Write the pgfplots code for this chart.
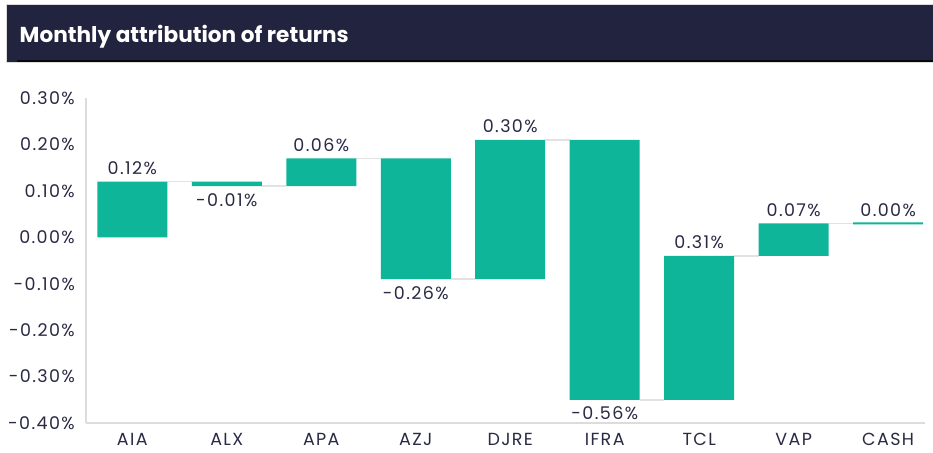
\documentclass[border=0pt]{standalone}
\usepackage{pgfplots}
\pgfplotsset{compat=1.18}
\usepackage{fontspec}
\setmainfont{Poppins}
\newfontfamily\lblfont{Poppins}[LetterSpace=8]
\definecolor{navy}{HTML}{22233F}
\definecolor{barc}{HTML}{0EB598}
\definecolor{txt}{HTML}{2A2A45}
\definecolor{gridc}{HTML}{DCDCDC}
\definecolor{conc}{HTML}{E2E2E2}
\tikzset{lab/.style={anchor=base, text=txt, inner sep=0pt, font=\lblfont\fontsize{17.5}{20}\selectfont}}
\pgfplotsset{
  mygeom/.style={
    at={(86pt,29pt)}, anchor=south west, scale only axis,
    width=839pt, height=325pt,
    xmin=-0.49, xmax=8.39, ymin=-0.40, ymax=0.30,
  }
}
\begin{document}
\begin{tikzpicture}[x=1pt,y=1pt]
\path[use as bounding box] (0,0) rectangle (933,452);
\fill[white] (0,0) rectangle (933,452);
\fill[gridc] (5.5,389) rectangle (933,447.5);
\fill[navy] (6.5,390) rectangle (933,446.5);
\fill[black!80!navy] (17,390) rectangle (933,392);
\node[anchor=base west, text=white, inner sep=0pt, font=\fontsize{21.6}{25}\selectfont\bfseries] at (19.5,409) {Monthly attribution of returns};
\begin{axis}[mygeom,
  axis x line*=bottom, axis y line*=left,
  axis line style={gridc, line width=1.2pt},
  xtick={0,1,2,3,4,5,6,7,8},
  xticklabels={AIA,ALX,APA,AZJ,DJRE,IFRA,TCL,VAP,CASH},
  ytick={-0.4,-0.3,-0.2,-0.1,0,0.1,0.2,0.3},
  yticklabels={-0.40\%,-0.30\%,-0.20\%,-0.10\%,0.00\%,0.10\%,0.20\%,0.30\%},
  major tick length=0pt,
  tick label style={text=txt, font=\lblfont\fontsize{17.5}{20}\selectfont},
  yticklabel style={inner sep=0pt, anchor=east, xshift=-11pt},
  xticklabel style={inner sep=0pt, anchor=north, yshift=-10pt},
  unbounded coords=jump,
]
\addplot[conc, line width=1.5pt] table {
x y
0.37 0.12
0.63 0.12
nan nan
1.37 0.11
1.63 0.11
nan nan
2.37 0.17
2.63 0.17
nan nan
3.37 -0.09
3.63 -0.09
nan nan
4.37 0.21
4.63 0.21
nan nan
5.37 -0.35
5.63 -0.35
nan nan
6.37 -0.04
6.63 -0.04
nan nan
7.37 0.03
7.63 0.03
};
\end{axis}
\begin{axis}[mygeom, hide axis, ybar stacked, stack negative=on previous, bar width=70pt]
\addplot[draw=none, fill=none] coordinates {
(0,0) (1,0.11) (2,0.11) (3,-0.09) (4,-0.09) (5,-0.35) (6,-0.35) (7,-0.04) (8,0.028)
};
\addplot[draw=none, fill=barc] coordinates {
(0,0.12) (1,0.01) (2,0.06) (3,0.26) (4,0.30) (5,0.56) (6,0.31) (7,0.07) (8,0.004)
};
\node[lab, yshift=7pt] at (axis cs:0,0.12) {0.12\%};
\node[lab, yshift=-20pt] at (axis cs:1,0.11) {-0.01\%};
\node[lab, yshift=7pt] at (axis cs:2,0.17) {0.06\%};
\node[lab, yshift=-20pt] at (axis cs:3,-0.09) {-0.26\%};
\node[lab, yshift=7pt] at (axis cs:4,0.21) {0.30\%};
\node[lab, yshift=-20pt] at (axis cs:5,-0.35) {-0.56\%};
\node[lab, yshift=7pt] at (axis cs:6,-0.04) {0.31\%};
\node[lab, yshift=7pt] at (axis cs:7,0.03) {0.07\%};
\node[lab, yshift=7pt] at (axis cs:8,0.03) {0.00\%};
\end{axis}
\end{tikzpicture}
\end{document}
